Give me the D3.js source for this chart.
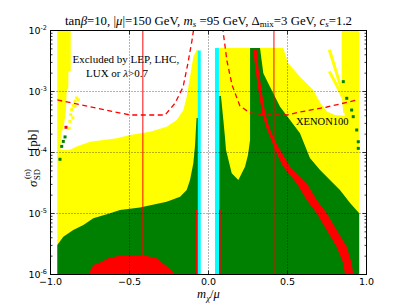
<!DOCTYPE html>
<html lang="en">
<head>
<meta charset="UTF-8">
<title>sigma SD vs m_chi/mu</title>
<script src="https://d3js.org/d3.v7.min.js"></script>
<style>
  body { margin: 0; background: #fff; }
  svg text { fill: #000; }
  .serif { font-family: "Liberation Serif", "DejaVu Serif", serif; }
  .sans { font-family: "DejaVu Sans", sans-serif; }
</style>
</head>
<body>
<svg id="chart" width="407" height="305"></svg>
<script>
// x = m_chi / mu, y = sigma_SD^(n) in pb
const xTicks = [-1, -0.5, 0, 0.5, 1];
const xTickLabels = ["\u22121.0", "\u22120.5", "0.0", "0.5", "1.0"];
const yTicks = [1e-6, 1e-5, 1e-4, 1e-3, 1e-2];
const yTickExps = ["-6", "-5", "-4", "-3", "-2"];

// yellow: allowed points
const yellowLeft = [[-0.957,1e-2],[-0.872,1e-2],[-0.872,2.17e-3],[-0.887,2.09e-3],[-0.887,1.14e-3],
  [-0.897,1.06e-3],[-0.902,4.97e-4],[-0.915,2.8e-4],[-0.934,1.94e-4],[-0.937,1.10e-4],[-0.877,1.11e-4],
  [-0.834,1.25e-4],[-0.750,1.50e-4],[-0.581,1.71e-4],[-0.497,1.94e-4],[-0.370,2.19e-4],[-0.265,2.65e-4],
  [-0.201,3.41e-4],[-0.159,4.97e-4],[-0.138,8.22e-4],[-0.117,1.75e-3],[-0.096,3.72e-3],[-0.075,4.79e-3],
  [-0.066,4.79e-3],[-0.066,1e-6],[-0.957,1e-6]];
const yellowRight = [[0.068,5.16e-3],[0.473,5.16e-3],[0.505,2.90e-3],[0.579,1.75e-3],[0.663,1.06e-3],
  [0.706,6.6e-4],[0.75,4.7e-4],[0.80,4.1e-4],[0.862,4.0e-4],[0.858,6e-4],[0.843,9e-4],[0.843,1e-2],
  [0.954,1e-2],[0.954,1e-6],[0.068,1e-6]];
const yellowStreaks = [
  [[0.765,4.84e-3],[0.853,8.87e-4],[0.862,4.5e-4]],
  [[0.765,2.14e-3],[0.853,7.82e-4]]
];
const yellowDots = [[-0.877,3.24e-4],[-0.872,4.17e-4],[-0.866,5.04e-4],[-0.856,5.94e-4],[-0.845,6.91e-4],
  [-0.834,7.82e-4],[-0.824,7.3e-4],[-0.845,5.7e-4],[-0.859,3.7e-4],[-0.882,2.5e-4]];

// green
const greenLeft = [[-0.957,1e-6],[-0.957,3.05e-6],[-0.919,4.17e-6],[-0.856,5.37e-6],[-0.792,6.47e-6],
  [-0.729,8.34e-6],[-0.623,1.01e-5],[-0.560,1.14e-5],[-0.434,1.26e-5],[-0.265,1.56e-5],[-0.180,1.88e-5],
  [-0.138,2.43e-5],[-0.117,3.54e-5],[-0.096,6.66e-5],[-0.085,1.33e-4],[-0.076,3.68e-4],[-0.066,3.68e-4],
  [-0.066,1e-6]];
const greenRight = [[0.068,1e-6],[0.068,8.43e-4],[0.079,8.43e-4],[0.094,3.41e-4],[0.104,1.82e-4],
  [0.111,1.10e-4],[0.147,4.56e-5],[0.189,3.54e-5],[0.231,5.85e-5],[0.250,9.1e-5],[0.263,1.6e-4],
  [0.263,5.16e-3],[0.326,5.16e-3],[0.347,1.99e-3],[0.389,1.20e-3],[0.453,5.64e-4],[0.516,3.41e-4],
  [0.579,2.06e-4],[0.642,8.1e-5],[0.706,5.16e-5],[0.769,3.54e-5],[0.832,2.43e-5],[0.896,1.49e-5],
  [0.954,1.01e-5],[0.954,1e-6]];
const greenDots = [[-0.908,1.8e-4],[-0.919,1.52e-4],[-0.929,1.26e-4],[-0.940,7.74e-5],
  [0.853,1.45e-3],[0.875,7.74e-4],[0.906,4.97e-4],[0.916,3.87e-4],[0.938,2.34e-4],[0.948,1.50e-4],[0.948,1.17e-4]];

// red
const redDome = [[-0.761,1e-6],[-0.729,1.43e-6],[-0.676,1.62e-6],[-0.634,1.84e-6],[-0.571,2.01e-6],
  [-0.391,2.01e-6],[-0.328,1.84e-6],[-0.275,1.43e-6],[-0.223,1.11e-6],[-0.212,1e-6]];
const redBand = [[0.283,4.8e-3],[0.298,2.2e-3],[0.318,9.5e-4],[0.340,4.3e-4],[0.365,2.6e-4],[0.398,1.6e-4],
  [0.421,1.10e-4],[0.473,5.85e-5],[0.558,3.13e-5],[0.622,1.66e-5],[0.685,1.01e-5],[0.748,5.37e-6],
  [0.811,2.86e-6],[0.853,1.53e-6],[0.864,1e-6],
  [0.916,1e-6],[0.906,1.53e-6],[0.875,2.86e-6],[0.811,5.37e-6],[0.748,1.01e-5],[0.685,1.66e-5],
  [0.622,3.13e-5],[0.516,5.85e-5],[0.453,1.10e-4],[0.418,1.6e-4],[0.385,2.6e-4],[0.360,4.3e-4],
  [0.338,9.5e-4],[0.318,2.2e-3],[0.305,4.8e-3]];
const redStrips = [[-0.079,-0.068,1.14e-5],[0.066,0.077,1.14e-5]];
const redDots = [[-0.902,2.59e-4]];

// cyan strips [x0, x1, top]
const cyanStrips = [[-0.068,-0.049,4.7e-3],[0.041,0.066,5.16e-3]];

// XENON100 limit
const xenonLeft = [[-0.957,7.26e-4],[-0.497,4.12e-4],[-0.275,4.12e-4],[-0.212,6.41e-4],[-0.161,1.18e-3],
  [-0.130,2.93e-3],[-0.104,6.98e-3],[-0.092,1.15e-2]];
const xenonRight = [[0.090,1.15e-2],[0.092,9.8e-3],[0.117,3.16e-3],[0.149,1.28e-3],[0.199,5.78e-4],
  [0.263,4.45e-4],[0.364,4.12e-4],[0.497,4.12e-4],[0.579,4.61e-4],[0.75,5.57e-4],[0.94,7.26e-4]];
const vLines = [-0.416, 0.414];

const svg = d3.select("#chart");
const x = d3.scaleLinear().domain([-1, 1]).range([50.5, 366.5]);
const y = d3.scaleLog().domain([1e-6, 1e-2]).range([274.5, 30.5]);

svg.append("defs").append("clipPath").attr("id", "plot")
  .append("rect").attr("x", 50.5).attr("y", 30.5).attr("width", 316).attr("height", 244);

const g = svg.append("g").attr("clip-path", "url(#plot)");
const line = d3.line().x(d => x(d[0])).y(d => y(d[1]));
const poly = (data, color) => g.append("path").attr("d", line(data) + "Z").attr("fill", color);
const strips = (data, color) => g.selectAll(null).data(data).join("rect")
  .attr("x", d => x(d[0])).attr("width", d => x(d[1]) - x(d[0]))
  .attr("y", d => y(d[2])).attr("height", d => y(1e-6) - y(d[2])).attr("fill", color);
const dots = (data, color) => g.selectAll(null).data(data).join("rect")
  .attr("x", d => x(d[0]) - 1.5).attr("y", d => y(d[1]) - 1.5)
  .attr("width", 3).attr("height", 3).attr("fill", color);

poly(yellowLeft, "#ffff00");
poly(yellowRight, "#ffff00");
yellowStreaks.forEach(s => g.append("path").attr("d", line(s)).attr("fill", "none")
  .attr("stroke", "#ffff00").attr("stroke-width", 3));
dots(yellowDots, "#ffff00");
poly(greenLeft, "#008000");
poly(greenRight, "#008000");
dots(greenDots, "#008000");
poly(redDome, "#ff0000");
poly(redBand, "#ff0000");
strips(redStrips, "#ff0000");
dots(redDots, "#ff0000");
strips(cyanStrips, "#00ffff");

// grid
g.selectAll(null).data([-0.5, 0, 0.5]).join("line")
  .attr("x1", d => x(d)).attr("x2", d => x(d)).attr("y1", 30.5).attr("y2", 274.5)
  .attr("stroke", "#000").attr("stroke-width", 0.6).attr("stroke-dasharray", "1,2");
g.selectAll(null).data([1e-5, 1e-4, 1e-3]).join("line")
  .attr("y1", d => y(d)).attr("y2", d => y(d)).attr("x1", 50.5).attr("x2", 366.5)
  .attr("stroke", "#000").attr("stroke-width", 0.6).attr("stroke-dasharray", "1,2");

// vertical limits
g.selectAll(null).data(vLines).join("line")
  .attr("x1", d => x(d)).attr("x2", d => x(d)).attr("y1", 30.5).attr("y2", 274.5)
  .attr("stroke", "#ff0000").attr("stroke-opacity", 0.65).attr("stroke-width", 1.5);

[xenonLeft, xenonRight].forEach(s => g.append("path").attr("d", line(s)).attr("fill", "none")
  .attr("stroke", "#ff0000").attr("stroke-width", 1.3).attr("stroke-dasharray", "5,3.5"));

// frame
svg.append("rect").attr("x", 50.5).attr("y", 30.5).attr("width", 316).attr("height", 244)
  .attr("fill", "none").attr("stroke", "#000").attr("stroke-width", 1);

// ticks
const tk = svg.append("g").attr("stroke", "#000").attr("stroke-width", 0.8);
xTicks.forEach(t => {
  tk.append("line").attr("x1", x(t)).attr("x2", x(t)).attr("y1", 274.5).attr("y2", 270.5);
  tk.append("line").attr("x1", x(t)).attr("x2", x(t)).attr("y1", 30.5).attr("y2", 34.5);
});
const minor = [];
for (let e = -6; e < -2; e++) for (let m = 2; m < 10; m++) minor.push(m * Math.pow(10, e));
yTicks.forEach(t => {
  tk.append("line").attr("x1", 50.5).attr("x2", 54.5).attr("y1", y(t)).attr("y2", y(t));
  tk.append("line").attr("x1", 366.5).attr("x2", 362.5).attr("y1", y(t)).attr("y2", y(t));
});
minor.forEach(t => {
  tk.append("line").attr("x1", 50.5).attr("x2", 52.5).attr("y1", y(t)).attr("y2", y(t));
  tk.append("line").attr("x1", 366.5).attr("x2", 364.5).attr("y1", y(t)).attr("y2", y(t));
});

// tick labels
svg.selectAll(null).data(xTicks).join("text").attr("class", "sans")
  .attr("x", d => x(d)).attr("y", 285).attr("text-anchor", "middle").attr("font-size", 9.5)
  .text((d, i) => xTickLabels[i]);
yTicks.forEach((t, i) => {
  const tx = svg.append("text").attr("class", "sans").attr("x", 47).attr("y", y(t) + 3.5)
    .attr("text-anchor", "end").attr("font-size", 9.5);
  tx.append("tspan").text("10");
  tx.append("tspan").attr("dy", -4).attr("font-size", 6.5).text(yTickExps[i]);
});

// title
const title = svg.append("text").attr("class", "serif").attr("x", 208.5).attr("y", 25)
  .attr("text-anchor", "middle").attr("font-size", 12.8);
title.append("tspan").text("tan");
title.append("tspan").attr("font-style", "italic").text("\u03b2");
title.append("tspan").text("=10, |");
title.append("tspan").attr("font-style", "italic").text("\u03bc");
title.append("tspan").text("|=150 GeV, ");
title.append("tspan").attr("font-style", "italic").text("m");
title.append("tspan").attr("font-style", "italic").attr("font-size", 9).attr("dy", 2).text("s");
title.append("tspan").attr("dy", -2).text(" =95 GeV, \u0394");
title.append("tspan").attr("font-size", 9).attr("dy", 2).text("mix");
title.append("tspan").attr("dy", -2).text("=3 GeV, ");
title.append("tspan").attr("font-style", "italic").text("c");
title.append("tspan").attr("font-style", "italic").attr("font-size", 9).attr("dy", 2).text("s");
title.append("tspan").attr("dy", -2).text("=1.2");

// annotations
svg.append("text").attr("class", "serif").attr("x", 72.5).attr("y", 62.5).attr("font-size", 11)
  .text("Excluded by LEP, LHC,");
const t2 = svg.append("text").attr("class", "serif").attr("x", 86).attr("y", 77).attr("font-size", 11);
t2.append("tspan").text("LUX or ");
t2.append("tspan").attr("font-style", "italic").text("\u03bb");
t2.append("tspan").text(">0.7");
svg.append("text").attr("class", "serif").attr("x", 296).attr("y", 124.5).attr("font-size", 10.5)
  .text("XENON100");

// axis labels
const xl = svg.append("text").attr("class", "serif").attr("x", 208.5).attr("y", 298)
  .attr("text-anchor", "middle").attr("font-size", 12.5);
xl.append("tspan").attr("font-style", "italic").text("m");
xl.append("tspan").attr("font-style", "italic").attr("font-size", 9).attr("dy", 3).text("\u03c7");
xl.append("tspan").attr("dy", -3).text("/");
xl.append("tspan").attr("font-style", "italic").text("\u03bc");

const yl = svg.append("g").attr("class", "serif").attr("transform", "translate(37,157) rotate(-90)");
yl.append("text").attr("x", -30).attr("y", 0).attr("font-size", 13).attr("font-style", "italic").text("\u03c3");
yl.append("text").attr("x", -23).attr("y", 3).attr("font-size", 8.5).text("SD");
yl.append("text").attr("x", -22).attr("y", -7).attr("font-size", 8.5).text("(n)");
yl.append("text").attr("x", 6).attr("y", 0).attr("font-size", 13).text("[pb]");
</script>
</body>
</html>
